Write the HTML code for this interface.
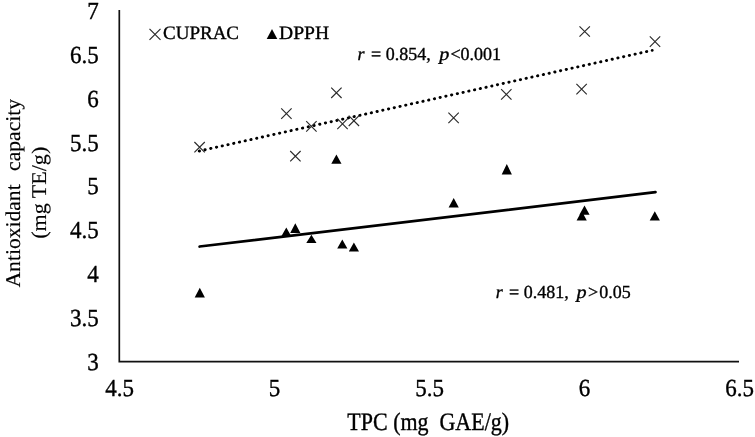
<!DOCTYPE html>
<html><head><meta charset="utf-8"><style>
html,body{margin:0;padding:0;background:#fff;}
body{width:755px;height:437px;overflow:hidden;}
svg{display:block;will-change:transform;filter:blur(0.3px);}
text{text-rendering:geometricPrecision;font-family:"Liberation Serif",serif;fill:#000;stroke:#000;stroke-width:0.35;}
</style></head><body>
<svg width="755" height="437" viewBox="0 0 755 437">
<rect width="755" height="437" fill="#fff"/>
<path d="M119.3 10V361.6H739" fill="none" stroke="#111" stroke-width="1.7"/>
<g><text transform="translate(98.80,18.70) scale(1.0,1.065)" font-size="23" text-anchor="end" >7</text><text transform="translate(98.80,62.64) scale(1.0,1.065)" font-size="23" text-anchor="end" >6.5</text><text transform="translate(98.80,106.58) scale(1.0,1.065)" font-size="23" text-anchor="end" >6</text><text transform="translate(98.80,150.51) scale(1.0,1.065)" font-size="23" text-anchor="end" >5.5</text><text transform="translate(98.80,194.45) scale(1.0,1.065)" font-size="23" text-anchor="end" >5</text><text transform="translate(98.80,238.39) scale(1.0,1.065)" font-size="23" text-anchor="end" >4.5</text><text transform="translate(98.80,282.32) scale(1.0,1.065)" font-size="23" text-anchor="end" >4</text><text transform="translate(98.80,326.26) scale(1.0,1.065)" font-size="23" text-anchor="end" >3.5</text><text transform="translate(98.80,370.20) scale(1.0,1.065)" font-size="23" text-anchor="end" >3</text><text transform="translate(119.50,396.40) scale(1.0,1.065)" font-size="23" text-anchor="middle" >4.5</text><text transform="translate(274.50,396.40) scale(1.0,1.065)" font-size="23" text-anchor="middle" >5</text><text transform="translate(429.50,396.40) scale(1.0,1.065)" font-size="23" text-anchor="middle" >5.5</text><text transform="translate(584.50,396.40) scale(1.0,1.065)" font-size="23" text-anchor="middle" >6</text><text transform="translate(739.50,396.40) scale(1.0,1.065)" font-size="23" text-anchor="middle" >6.5</text></g>
<text transform="translate(428.20,430.20) scale(0.955,1.09)" font-size="23" text-anchor="middle" >TPC (mg&#160; GAE/g)</text>
<g id="yt1" transform="translate(20.0,287.5) rotate(-90)"><text transform="translate(0.00,0.00) scale(1.028,1.0)" font-size="21" text-anchor="start" style="stroke-width:0.15">Antioxidant</text></g>
<g id="yt2" transform="translate(20.0,170.9) rotate(-90)"><text transform="translate(0.00,0.00) scale(1.03,1.0)" font-size="21" text-anchor="start" style="stroke-width:0.15">capacity</text></g>
<g id="yt3" transform="translate(46.2,192.8) rotate(-90)"><text transform="translate(0.00,0.00) scale(1.05,1.0)" font-size="21" text-anchor="middle" style="stroke-width:0.15">(mg TE/g)</text></g>
<line x1="199.6" y1="246.52" x2="655.5" y2="192.21" stroke="#000" stroke-width="2.7" stroke-linecap="round"/>
<line x1="199.2" y1="151.05" x2="652.2" y2="50.36" stroke="#000" stroke-width="2.9" stroke-linecap="round" stroke-dasharray="0.3 5.5741"/>
<path d="M194.4 142.0L204.8 152.4M204.8 142.0L194.4 152.4M281.2 108.4L291.6 118.8M291.6 108.4L281.2 118.8M290.2 151.0L300.6 161.4M300.6 151.0L290.2 161.4M306.2 121.2L316.6 131.6M316.6 121.2L306.2 131.6M331.2 87.6L341.6 98.0M341.6 87.6L331.2 98.0M337.3 118.7L347.7 129.1M347.7 118.7L337.3 129.1M348.7 115.6L359.1 126.0M359.1 115.6L348.7 126.0M448.4 112.7L458.8 123.1M458.8 112.7L448.4 123.1M501.1 89.2L511.5 99.6M511.5 89.2L501.1 99.6M576.4 83.9L586.8 94.3M586.8 83.9L576.4 94.3M579.5 26.3L589.9 36.7M589.9 26.3L579.5 36.7M649.8 36.4L660.2 46.8M660.2 36.4L649.8 46.8" stroke="#2a2a2a" stroke-width="1.15" fill="none"/>
<path d="M199.8 287.7L204.9 297.6L194.7 297.6ZM286.3 227.5L291.4 236.5L281.2 236.5ZM295.3 223.3L300.4 232.9L290.2 232.9ZM311.4 234.7L316.5 243.0L306.3 243.0ZM336.4 154.5L341.5 163.8L331.3 163.8ZM342.3 239.4L347.4 248.4L337.2 248.4ZM353.9 242.4L359.0 251.4L348.8 251.4ZM453.7 198.1L458.8 207.5L448.6 207.5ZM506.8 163.9L511.9 174.6L501.7 174.6ZM581.7 211.0L586.8 220.6L576.6 220.6ZM584.5 205.5L589.6 214.7L579.4 214.7ZM654.8 211.3L659.9 220.6L649.7 220.6Z" fill="#000"/>
<path d="M149.5 28.8L160.5 39.8M160.5 28.8L149.5 39.8" stroke="#2a2a2a" stroke-width="1.15" fill="none"/>
<text transform="translate(163.00,39.00) scale(1,1)" font-size="19" text-anchor="start" >CUPRAC</text>
<path d="M272.0 28.9L277.3 39.0L266.7 39.0Z" fill="#000"/>
<text transform="translate(279.00,39.00) scale(1.03,1.0)" font-size="19" text-anchor="start" >DPPH</text>
<text id="a1" transform="translate(357.60,59.6) scale(1.0,1.02)" font-size="18" font-style="italic">r</text><text id="a2" transform="translate(370.90,59.6) scale(1.0,1.02)" font-size="18">=</text><text id="a3" transform="translate(385.70,59.6) scale(1.0,1.02)" font-size="18">0.854,</text><text id="a4" transform="translate(439.20,59.6) scale(1.12,1.02)" font-size="18" font-style="italic">p</text><text id="a5" transform="translate(450.50,59.6) scale(1.0,1.02)" font-size="18">&lt;</text><text id="a6" transform="translate(460.50,59.6) scale(1.0,1.02)" font-size="18">0.001</text><text id="b1" transform="translate(495.80,297.8) scale(1.0,1.02)" font-size="18" font-style="italic">r</text><text id="b2" transform="translate(509.10,297.8) scale(1.0,1.02)" font-size="18">=</text><text id="b3" transform="translate(523.70,297.8) scale(1.0,1.02)" font-size="18">0.481,</text><text id="b4" transform="translate(576.40,297.8) scale(1.12,1.02)" font-size="18" font-style="italic">p</text><text id="b5" transform="translate(588.10,297.8) scale(1.0,1.02)" font-size="18">&gt;</text><text id="b6" transform="translate(599.20,297.8) scale(1.0,1.02)" font-size="18">0.05</text>
</svg>
</body></html>
